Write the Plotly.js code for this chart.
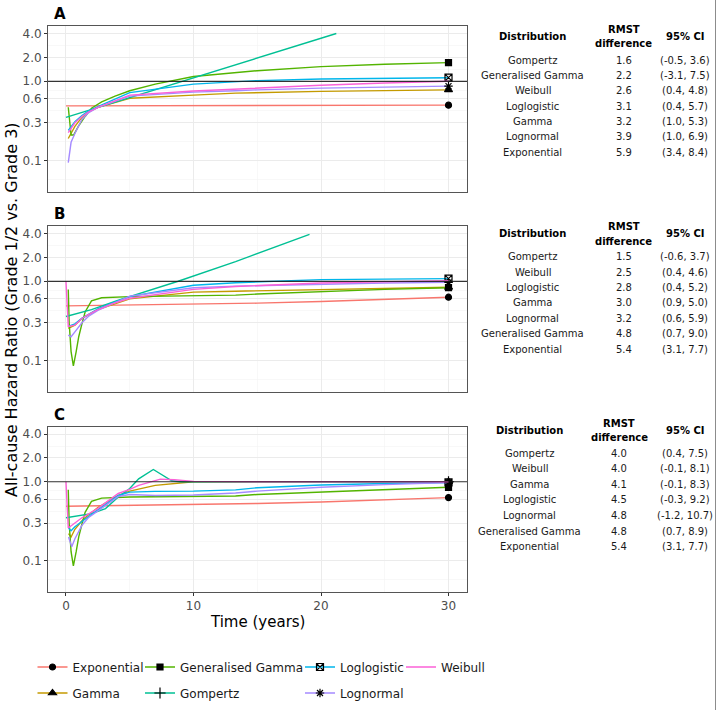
<!DOCTYPE html>
<html>
<head>
<meta charset="utf-8">
<script src="https://cdn.plot.ly/plotly-3.0.1.min.js"></script>
<style>
html,body{margin:0;padding:0;background:#fff;}
#chart{width:718px;height:710px;}
</style>
</head>
<body>
<div id="chart"></div>
<script>
// ---------------- DATA ----------------
const distributions = ["Exponential","Gamma","Generalised Gamma","Gompertz","Loglogistic","Lognormal","Weibull"];
const panelLabels = ["A","B","C"];
const yTickVals = [0.1,0.3,0.6,1,2,4];
const yTickText = ["0.1","0.3","0.6","1.0","2.0","4.0"];
const xTickVals = [0,10,20,30];
const xTickText = ["0","10","20","30"];

// Panel A
const A_t_Exponential = [0, 10, 20, 30];
const A_hr_Exponential = [0.49, 0.49, 0.50, 0.50];
const A_t_Gamma = [0.18, 0.7, 1.25, 1.75, 2.5, 5, 10, 13.3, 20, 25, 30];
const A_hr_Gamma = [0.19, 0.27, 0.35, 0.41, 0.47, 0.61, 0.67, 0.71, 0.745, 0.765, 0.78];
const A_t_GenGamma = [0.18, 0.4, 0.6, 0.97, 1.5, 2.0, 2.8, 3.85, 5, 7, 10, 13.3, 15, 20, 25, 30];
const A_hr_GenGamma = [0.47, 0.21, 0.21, 0.27, 0.36, 0.457, 0.55, 0.65, 0.76, 0.92, 1.15, 1.30, 1.36, 1.53, 1.64, 1.72];
const A_t_Gompertz = [0, 5, 10, 15, 21.2];
const A_hr_Gompertz = [0.35, 0.62, 1.10, 1.95, 4.0];
const A_t_Loglogistic = [0.18, 0.7, 1.25, 1.75, 2.5, 5, 10, 13.3, 15, 20, 25, 30];
const A_hr_Loglogistic = [0.24, 0.31, 0.37, 0.42, 0.48, 0.72, 0.92, 0.99, 1.02, 1.07, 1.09, 1.11];
const A_t_Lognormal = [0.18, 0.4, 0.7, 1.25, 1.75, 2.5, 5, 10, 13.3, 15, 20, 25, 30];
const A_hr_Lognormal = [0.094, 0.17, 0.22, 0.33, 0.40, 0.47, 0.65, 0.73, 0.76, 0.78, 0.82, 0.85, 0.87];
const A_t_Weibull = [0.18, 0.7, 1.25, 1.75, 2.5, 5, 10, 13.3, 15, 20, 25, 30];
const A_hr_Weibull = [0.225, 0.30, 0.36, 0.41, 0.47, 0.67, 0.755, 0.80, 0.83, 0.89, 0.95, 1.0];

// Panel B
const B_t_Exponential = [0, 5, 10, 15, 20, 25, 30];
const B_hr_Exponential = [0.49, 0.50, 0.51, 0.53, 0.555, 0.59, 0.63];
const B_t_Gamma = [0.18, 0.7, 1.25, 1.75, 2.5, 5, 10, 13.3, 20, 25, 30];
const B_hr_Gamma = [0.255, 0.28, 0.34, 0.38, 0.44, 0.60, 0.73, 0.75, 0.79, 0.82, 0.84];
const B_t_GenGamma = [0.18, 0.25, 0.4, 0.58, 0.8, 1.0, 1.25, 1.5, 2, 2.8, 5, 10, 13.3, 15, 20, 25, 30];
const B_hr_GenGamma = [0.79, 0.30, 0.13, 0.086, 0.13, 0.20, 0.29, 0.41, 0.565, 0.62, 0.64, 0.65, 0.67, 0.69, 0.74, 0.79, 0.83];
const B_t_Gompertz = [0, 2, 4, 6, 8.8, 13.3, 16, 19.1];
const B_hr_Gompertz = [0.36, 0.44, 0.57, 0.72, 1.0, 1.77, 2.55, 3.9];
const B_t_Loglogistic = [0.18, 0.7, 1.25, 1.75, 2.5, 3.6, 5, 10, 13.3, 20, 25, 30];
const B_hr_Loglogistic = [0.27, 0.29, 0.34, 0.38, 0.45, 0.53, 0.64, 0.89, 0.96, 1.05, 1.07, 1.08];
const B_t_Lognormal = [0.18, 0.4, 0.7, 1.25, 1.75, 2.5, 5, 10, 13.3, 20, 25, 30];
const B_hr_Lognormal = [0.21, 0.20, 0.23, 0.30, 0.36, 0.43, 0.65, 0.83, 0.87, 0.92, 0.95, 0.97];
const B_t_Weibull = [0, 0.18, 0.7, 1.25, 1.75, 2.5, 3.6, 5, 10, 13.3, 20, 25, 30];
const B_hr_Weibull = [1.0, 0.27, 0.28, 0.34, 0.38, 0.44, 0.52, 0.61, 0.79, 0.86, 0.95, 0.99, 1.02];

// Panel C
const C_t_Exponential = [0, 5, 10, 15, 20, 25, 30];
const C_hr_Exponential = [0.49, 0.50, 0.51, 0.53, 0.555, 0.59, 0.63];
const C_t_Gamma = [0.2, 0.4, 0.7, 1.25, 1.75, 2.5, 4.1, 5, 7, 9.1, 10, 15, 20, 25, 30];
const C_hr_Gamma = [0.22, 0.20, 0.25, 0.32, 0.38, 0.47, 0.67, 0.76, 0.90, 0.97, 1.0, 1.0, 1.0, 1.0, 1.0];
const C_t_GenGamma = [0.18, 0.25, 0.4, 0.58, 0.8, 1.0, 1.25, 1.5, 2, 2.8, 5, 10, 13.3, 15, 20, 25, 30];
const C_hr_GenGamma = [0.79, 0.30, 0.13, 0.086, 0.13, 0.20, 0.29, 0.41, 0.565, 0.62, 0.64, 0.65, 0.66, 0.69, 0.74, 0.80, 0.85];
const C_t_Gompertz = [0, 1.25, 2, 3.1, 4.1, 5, 5.7, 6.85, 7.8, 8.3, 9, 10, 15, 20, 25, 30];
const C_hr_Gompertz = [0.35, 0.377, 0.395, 0.457, 0.64, 0.82, 1.09, 1.43, 1.14, 1.03, 1.0, 1.0, 1.0, 1.0, 1.0, 1.0];
const C_t_Loglogistic = [0.2, 0.4, 0.7, 1.25, 1.75, 2.5, 4.1, 5, 7, 10, 13.3, 15, 20, 25, 30];
const C_hr_Loglogistic = [0.26, 0.24, 0.27, 0.31, 0.36, 0.44, 0.67, 0.74, 0.755, 0.76, 0.79, 0.84, 0.91, 0.95, 0.98];
const C_t_Lognormal = [0.2, 0.45, 0.7, 1.25, 1.75, 2.5, 4.1, 5, 7, 10, 13.3, 15, 20, 25, 30];
const C_hr_Lognormal = [0.20, 0.15, 0.19, 0.28, 0.35, 0.43, 0.65, 0.69, 0.67, 0.68, 0.72, 0.76, 0.85, 0.92, 0.98];
const C_t_Weibull = [0, 0.18, 0.7, 1.25, 1.75, 2.5, 4.1, 5, 5.7, 6.5, 7.4, 8.5, 10, 15, 20, 25, 30];
const C_hr_Weibull = [1.0, 0.26, 0.30, 0.35, 0.39, 0.46, 0.71, 0.80, 0.90, 0.98, 1.08, 1.06, 1.01, 1.0, 1.0, 1.0, 1.0];

// Tables
const tableA_dist = ["Gompertz","Generalised Gamma","Weibull","Loglogistic","Gamma","Lognormal","Exponential"];
const tableA_rmst = ["1.6","2.2","2.6","3.1","3.2","3.9","5.9"];
const tableA_ci = ["(-0.5, 3.6)","(-3.1, 7.5)","(0.4, 4.8)","(0.4, 5.7)","(1.0, 5.3)","(1.0, 6.9)","(3.4, 8.4)"];
const tableB_dist = ["Gompertz","Weibull","Loglogistic","Gamma","Lognormal","Generalised Gamma","Exponential"];
const tableB_rmst = ["1.5","2.5","2.8","3.0","3.2","4.8","5.4"];
const tableB_ci = ["(-0.6, 3.7)","(0.4, 4.6)","(0.4, 5.2)","(0.9, 5.0)","(0.6, 5.9)","(0.7, 9.0)","(3.1, 7.7)"];
const tableC_dist = ["Gompertz","Weibull","Gamma","Loglogistic","Lognormal","Generalised Gamma","Exponential"];
const tableC_rmst = ["4.0","4.0","4.1","4.5","4.8","4.8","5.4"];
const tableC_ci = ["(0.4, 7.5)","(-0.1, 8.1)","(-0.1, 8.3)","(-0.3, 9.2)","(-1.2, 10.7)","(0.7, 8.9)","(3.1, 7.7)"];

// ---------------- STYLES ----------------
const W = 718, H = 710;
const FONT = "DejaVu Sans";
const colors = {"Exponential":"#F8766D","Gamma":"#C49A00","Generalised Gamma":"#53B400","Gompertz":"#00C094","Loglogistic":"#00B6EB","Lognormal":"#A58AFF","Weibull":"#FB61D7"};
const symbols = {"Exponential":["circle",6],"Gamma":["triangle-up",7],"Generalised Gamma":["square",6],"Gompertz":["cross-thin-open",8],"Loglogistic":["square-x-open",7],"Lognormal":["asterisk-open",7],"Weibull":null};
const legendOf = {"Exponential":"legend","Generalised Gamma":"legend2","Loglogistic":"legend3","Weibull":"legend4","Gamma":"legend5","Gompertz":"legend6","Lognormal":"legend7"};

const panelData = {
  A: {"Exponential":[A_t_Exponential,A_hr_Exponential],"Gamma":[A_t_Gamma,A_hr_Gamma],"Generalised Gamma":[A_t_GenGamma,A_hr_GenGamma],"Gompertz":[A_t_Gompertz,A_hr_Gompertz],"Loglogistic":[A_t_Loglogistic,A_hr_Loglogistic],"Lognormal":[A_t_Lognormal,A_hr_Lognormal],"Weibull":[A_t_Weibull,A_hr_Weibull]},
  B: {"Exponential":[B_t_Exponential,B_hr_Exponential],"Gamma":[B_t_Gamma,B_hr_Gamma],"Generalised Gamma":[B_t_GenGamma,B_hr_GenGamma],"Gompertz":[B_t_Gompertz,B_hr_Gompertz],"Loglogistic":[B_t_Loglogistic,B_hr_Loglogistic],"Lognormal":[B_t_Lognormal,B_hr_Lognormal],"Weibull":[B_t_Weibull,B_hr_Weibull]},
  C: {"Exponential":[C_t_Exponential,C_hr_Exponential],"Gamma":[C_t_Gamma,C_hr_Gamma],"Generalised Gamma":[C_t_GenGamma,C_hr_GenGamma],"Gompertz":[C_t_Gompertz,C_hr_Gompertz],"Loglogistic":[C_t_Loglogistic,C_hr_Loglogistic],"Lognormal":[C_t_Lognormal,C_hr_Lognormal],"Weibull":[C_t_Weibull,C_hr_Weibull]}
};

// panel geometry in pixels (top, bottom)
const panelPx = {A:[26,192], B:[226,392], C:[426.7,592]};
const plotLeft = 48, plotRight = 467;

const traces = [];
panelLabels.forEach((p, pi) => {
  const sfx = pi === 0 ? "" : String(pi+1);
  distributions.forEach(d => {
    const [t, hr] = panelData[p][d];
    const sym = symbols[d];
    const tr = {
      type: "scatter",
      x: t, y: hr,
      xaxis: "x"+sfx, yaxis: "y"+sfx,
      name: d,
      legend: legendOf[d],
      showlegend: pi === 0,
      line: {color: colors[d], width: 1.4},
      hoverinfo: "skip"
    };
    if (sym) {
      tr.mode = "lines+markers";
      tr.marker = {symbol: sym[0], size: sym[1], color: "#000000", line: {color: "#000000", width: 1.2}};
      const last = t.length - 1;
      tr.selectedpoints = (t[last] === 30) ? [last] : [];
      tr.selected = {marker: {opacity: 1}};
      tr.unselected = {marker: {opacity: 0}};
    } else {
      tr.mode = "lines";
    }
    traces.push(tr);
  });
});

const layout = {
  width: W, height: H,
  margin: {l:0, r:0, t:0, b:0},
  paper_bgcolor: "#ffffff",
  plot_bgcolor: "#ffffff",
  font: {family: FONT, size: 12, color: "#1A1A1A"},
  showlegend: true,
  annotations: [],
  shapes: []
};

const yRange = [Math.log10(0.05) - 0.095, Math.log10(4) + 0.095];
const xRange = [-1.41, 31.45];
const yMinor = [0.0577, 0.1732, 0.4243, 0.7746, 1.4142, 2.8284];

panelLabels.forEach((p, pi) => {
  const sfx = pi === 0 ? "" : String(pi+1);
  const [top, bot] = panelPx[p];
  const dom = [1 - bot/H, 1 - top/H];
  const isLast = pi === 2;
  layout["xaxis"+sfx] = {
    domain: [plotLeft/W, plotRight/W],
    anchor: "y"+sfx,
    range: xRange,
    tickmode: "array", tickvals: xTickVals, ticktext: xTickText,
    showticklabels: isLast,
    ticks: isLast ? "outside" : "",
    ticklen: 3, tickcolor: "#333333", tickwidth: 1,
    tickfont: {family: FONT, size: 12, color: "#4D4D4D"},
    showgrid: true, gridcolor: "#EBEBEB", gridwidth: 1,
    minor: {tickmode: "array", tickvals: [5,15,25], showgrid: true, gridcolor: "#F3F3F3", gridwidth: 0.6, ticks: ""},
    zeroline: false,
    showline: true, mirror: true, linecolor: "#555555", linewidth: 1,
    fixedrange: true
  };
  layout["yaxis"+sfx] = {
    domain: dom,
    anchor: "x"+sfx,
    type: "log",
    range: yRange,
    tickmode: "array", tickvals: yTickVals, ticktext: yTickText,
    ticks: "outside", ticklen: 3, tickcolor: "#333333", tickwidth: 1,
    tickfont: {family: FONT, size: 12, color: "#4D4D4D"},
    showgrid: true, gridcolor: "#EBEBEB", gridwidth: 1,
    minor: {tickmode: "array", tickvals: yMinor, showgrid: true, gridcolor: "#F3F3F3", gridwidth: 0.6, ticks: ""},
    zeroline: false,
    showline: true, mirror: true, linecolor: "#555555", linewidth: 1,
    fixedrange: true
  };
  // reference line at HR = 1
  layout.shapes.push({
    type: "line", layer: "above",
    xref: "x"+sfx+" domain", x0: 0, x1: 1,
    yref: "y"+sfx, y0: 1, y1: 1,
    line: {color: "rgba(20,20,20,0.85)", width: 1.2}
  });
  // panel letter
  layout.annotations.push({
    xref: "paper", yref: "paper",
    x: 52/W, y: 1 - (top - 12)/H,
    xanchor: "left", yanchor: "middle",
    text: "<b>" + p + "</b>", showarrow: false,
    font: {family: FONT, size: 15, color: "#000000"}
  });
});

// tables
const tables = [
  {dist: tableA_dist, rmst: tableA_rmst, ci: tableA_ci, hdr: 36.5, rmstY: 30, diffY: 43.3, row0: 60, step: 15.4, cx: [532.5, 623.5, 684.5]},
  {dist: tableB_dist, rmst: tableB_rmst, ci: tableB_ci, hdr: 233.7, rmstY: 226.7, diffY: 241.3, row0: 256.7, step: 15.4, cx: [532.5, 623.5, 685]},
  {dist: tableC_dist, rmst: tableC_rmst, ci: tableC_ci, hdr: 430, rmstY: 423.3, diffY: 437.3, row0: 453.3, step: 15.55, cx: [529.5, 619, 684.5]}
];
function txt(x, y, text, bold) {
  layout.annotations.push({
    xref: "paper", yref: "paper", x: x/W, y: 1 - y/H,
    xanchor: "center", yanchor: "middle", showarrow: false,
    text: bold ? "<b>" + text + "</b>" : text,
    font: {family: FONT, size: 10, color: bold ? "#000000" : "#1A1A1A"}
  });
}
tables.forEach(tb => {
  txt(tb.cx[0], tb.hdr, "Distribution", true);
  txt(tb.cx[1], tb.rmstY, "RMST", true);
  txt(tb.cx[1], tb.diffY, "difference", true);
  txt(tb.cx[2], tb.hdr, "95% CI", true);
  tb.dist.forEach((d, i) => {
    const y = tb.row0 + i*tb.step;
    txt(tb.cx[0], y, d, false);
    txt(tb.cx[1], y, tb.rmst[i], false);
    txt(tb.cx[2], y, tb.ci[i], false);
  });
});

// axis titles
layout.annotations.push({
  xref: "paper", yref: "paper", x: 11/W, y: 1 - 310/H,
  xanchor: "center", yanchor: "middle", textangle: -90, showarrow: false,
  text: "All-cause Hazard Ratio (Grade 1/2 vs. Grade 3)",
  font: {family: FONT, size: 16, color: "#000000"}
});
layout.annotations.push({
  xref: "paper", yref: "paper", x: 257.5/W, y: 1 - 622/H,
  xanchor: "center", yanchor: "middle", showarrow: false,
  text: "Time (years)",
  font: {family: FONT, size: 15, color: "#000000"}
});

// right border line
layout.shapes.push({type: "line", xref: "paper", yref: "paper", x0: 715.5/W, x1: 715.5/W, y0: 0, y1: 1, line: {color: "#8C8C8C", width: 1}});

// legends (one per entry so columns match)
const legendPos = {
  legend: [32.5, 667], legend2: [140, 667], legend3: [300, 667], legend4: [401, 667],
  legend5: [32.5, 693], legend6: [140, 693], legend7: [300, 693]
};
Object.keys(legendPos).forEach(k => {
  const [lx, ly] = legendPos[k];
  layout[k] = {
    x: lx/W, y: 1 - ly/H, xanchor: "left", yanchor: "middle",
    xref: "paper", yref: "paper",
    orientation: "v", bgcolor: "rgba(0,0,0,0)", borderwidth: 0,
    itemwidth: 30,
    font: {family: FONT, size: 12, color: "#1A1A1A"}
  };
});

Plotly.newPlot("chart", traces, layout, {staticPlot: true, displayModeBar: false});
</script>
</body>
</html>
